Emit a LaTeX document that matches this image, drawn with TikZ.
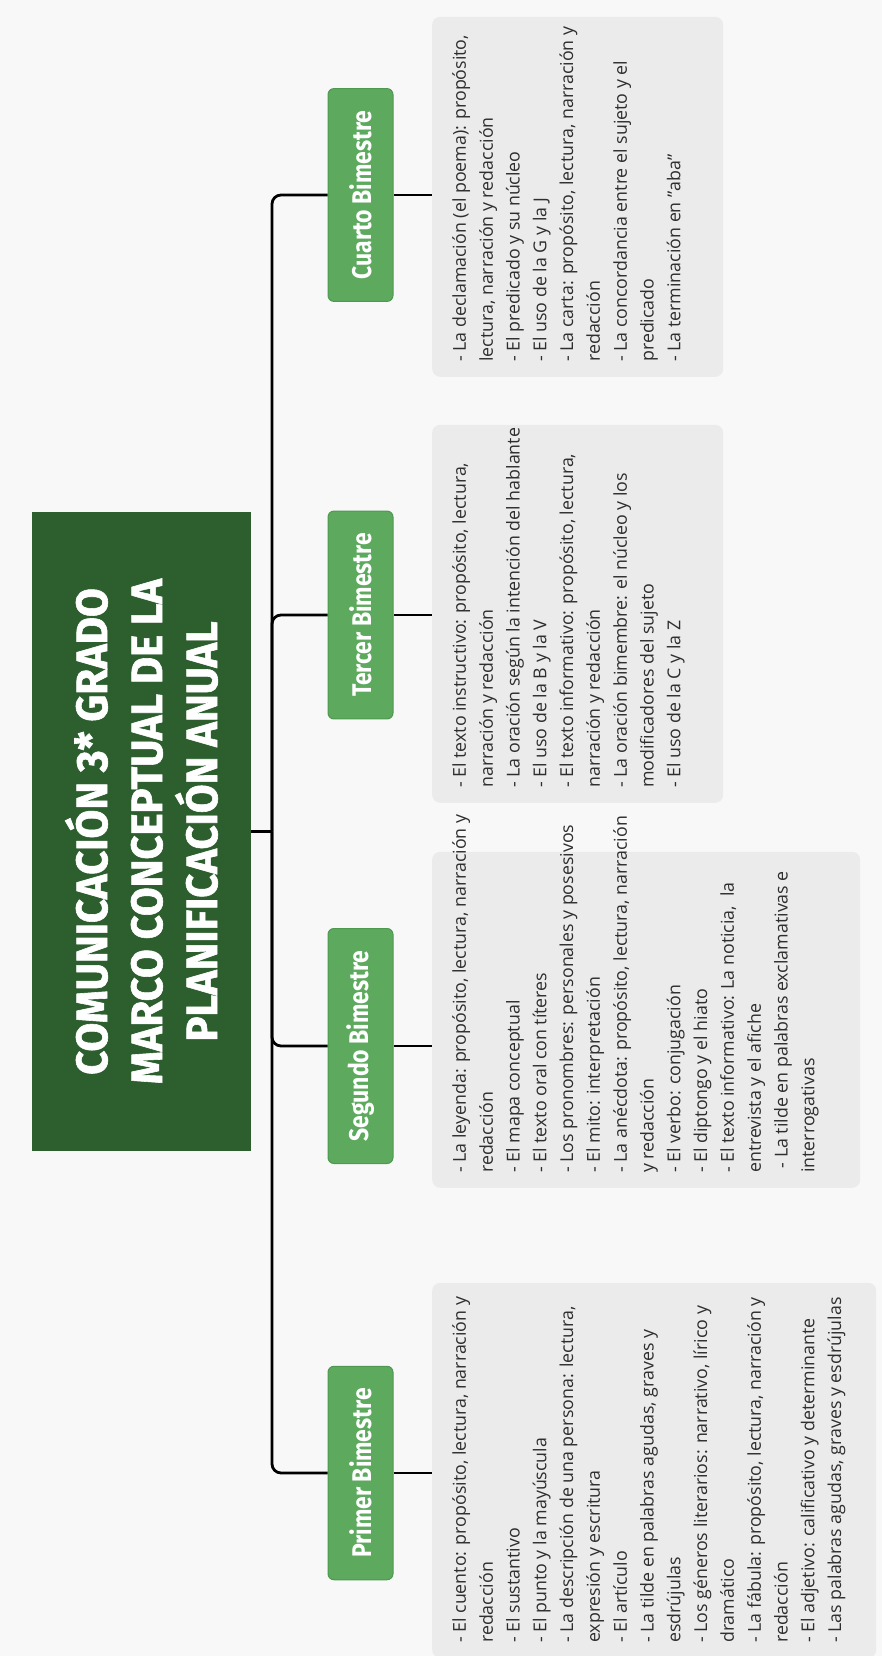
\documentclass[tikz,border=0pt]{standalone}
\usepackage{xcolor}
\usepackage{fontspec}
\setmainfont{Open Sans}
\newfontfamily\titulofont[FakeStretch=0.95,BoldFeatures={FakeBold=1.3}]{Fira Sans}
\newfontfamily\bimfont[FakeStretch=0.85]{Fira Sans}
\usepackage{tikz}

\definecolor{fondo}{HTML}{F8F8F8}
\definecolor{verdeosc}{HTML}{2C5E2E}
\definecolor{verdebim}{HTML}{5DAA5F}
\definecolor{verdeborde}{HTML}{4E9950}
\definecolor{grisclaro}{HTML}{EBEBEB}
\definecolor{texto}{HTML}{2E2E2E}

% caja de texto: alto, ancho, lineas
\newcommand{\caja}[3]{\begin{minipage}[t][#1][t]{#2}\begin{tabular}[t]{@{}l@{}}#3\end{tabular}\end{minipage}}

\begin{document}
\begin{tikzpicture}[x=1pt,y=-1pt,
		titulo/.style={rotate=90,fill=verdeosc,text=white,minimum width=639pt,minimum height=219pt,align=center,font=\titulofont\bfseries\fontsize{44}{55}\selectfont},
		bim/.style={rotate=90,fill=verdebim,draw=verdeborde,line width=1pt,rounded corners=6pt,text=white,minimum height=65pt,inner xsep=22pt,font=\bimfont\bfseries\fontsize{27}{30}\selectfont},
		gris/.style={rotate=90,fill=grisclaro,rounded corners=8pt,anchor=north west,inner xsep=15pt,inner ysep=15pt,text=texto,font=\fontsize{17.8}{26.8}\selectfont},
		rama/.style={line width=2.8pt,rounded corners=9pt},
		enlace/.style={line width=2.2pt}]
	\clip (0,0) rectangle (882,1656);
	\fill[fondo] (0,0) rectangle (882,1656);
	%标题
	\node (titulo) [titulo] at (141.5,831.5) {COMUNICACIÓN 3* GRADO\\MARCO CONCEPTUAL DE LA\\PLANIFICACIÓN ANUAL};
	\coordinate (junta) at (272,831.5);
	
	\node (b1) [bim] at (360.5,1473) {Primer Bimestre};
	\node (b2) [bim] at (360.5,1046) {Segundo Bimestre};
	\node (b3) [bim] at (360.5,615) {Tercer Bimestre};
	\node (b4) [bim] at (360.5,195) {Cuarto Bimestre};
	
	\node (g1) [gris] at (432,1658) {\caja{414pt}{345pt}{%
			- El cuento: propósito, lectura, narración y\\
			redacción\\
			- El sustantivo\\
			- El punto y la mayúscula\\
			- La descripción de una persona: lectura,\\
			expresión y escritura\\
			- El artículo\\
			- La tilde en palabras agudas, graves y\\
			esdrújulas\\
			- Los géneros literarios: narrativo, lírico y\\
			dramático\\
			- La fábula: propósito, lectura, narración y\\
			redacción\\
			- El adjetivo: calificativo y determinante\\
			- Las palabras agudas, graves y esdrújulas}};
	\node (g2) [gris] at (432,1188) {\caja{398pt}{306pt}{%
			- La leyenda: propósito, lectura, narración y\\
			redacción\\
			- El mapa conceptual\\
			- El texto oral con títeres\\
			- Los pronombres: personales y posesivos\\
			- El mito: interpretación\\
			- La anécdota: propósito, lectura, narración\\
			y redacción\\
			- El verbo: conjugación\\
			- El diptongo y el hiato\\
			- El texto informativo: La noticia,\ \ la\\
			entrevista y el afiche\\
			\ - La tilde en palabras exclamativas e\\
			interrogativas}};
	\node (g3) [gris] at (432,803) {\caja{261pt}{348pt}{%
			- El texto instructivo: propósito, lectura,\\
			narración y redacción\\
			- La oración según la intención del hablante\\
			- El uso de la B y la V\\
			- El texto informativo: propósito, lectura,\\
			narración y redacción\\
			- La oración bimembre: el núcleo y los\\
			modificadores del sujeto\\
			- El uso de la C y la Z}};
	\node (g4) [gris] at (432,377) {\caja{261pt}{330pt}{%
			- La declamación (el poema): propósito,\\
			lectura, narración y redacción\\
			- El predicado y su núcleo\\
			- El uso de la G y la J\\
			- La carta: propósito, lectura, narración y\\
			redacción\\
			- La concordancia entre el sujeto y el\\
			predicado\\
			- La terminación en "aba"}};
	
	\draw[rama] (titulo.south) -- (junta);
	\foreach \b in {b1,b2,b3,b4}
		\draw[rama] (junta) |- (\b.north);
	\foreach \b/\g in {b1/g1,b2/g2,b3/g3,b4/g4}
		\draw[enlace] (\b.south) -- (\b.south -| \g.north);
\end{tikzpicture}
\end{document}
